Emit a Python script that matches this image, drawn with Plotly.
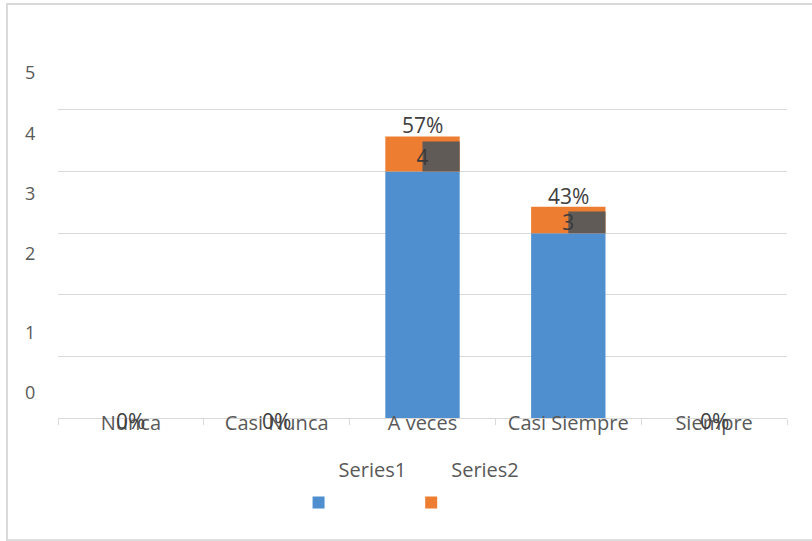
import plotly.graph_objects as go

categories = ["Nunca", "Casi Nunca", "A veces", "Casi Siempre", "Siempre"]
series1 = [0, 0, 4, 3, 0]
series2 = [0, 0, 0.57, 0.43, 0]
series2_labels = ["0%", "0%", "57%", "43%", "0%"]
y_ticks = [0, 1, 2, 3, 4, 5]

FONT = "Open Sans"
GRAY = "#595959"
BLUE = "#4f8fd0"
ORANGE = "#ed7d31"
SHADOW = "#5a5a5a"
BAR_W = 0.51

fig = go.Figure()

fig.add_trace(go.Bar(
    x=categories, y=series1, base=[0] * len(series1),
    name="<span style='font-size:20px'>Series1</span><br> ",
    marker=dict(color=BLUE, line=dict(width=0)), width=BAR_W,
))
fig.add_trace(go.Bar(
    x=categories, y=series2, base=series1,
    name="<span style='font-size:20px'>Series2</span><br> ",
    marker=dict(color=ORANGE, line=dict(width=0)), width=BAR_W,
))
# dark label box (with shadow) covering the right half of the orange segment
shadow_h = [max(v - 0.08, 0) for v in series2]
fig.add_trace(go.Bar(
    x=categories, y=shadow_h, base=series1, showlegend=False,
    marker=dict(color=SHADOW, opacity=0.95, line=dict(width=0)),
    width=BAR_W / 2, offset=0, hoverinfo="skip",
))
# Series1 value labels in the dark boxes
s1_idx = [i for i, v in enumerate(series1) if v > 0]
fig.add_trace(go.Scatter(
    x=[categories[i] for i in s1_idx],
    y=[series1[i] + shadow_h[i] * 0.4 for i in s1_idx],
    text=[str(series1[i]) for i in s1_idx],
    mode="text", textposition="middle center", showlegend=False,
    textfont=dict(family=FONT, size=21, color="#3a3a3a"), hoverinfo="skip",
))
# Series2 percentage labels
for cat, a, b, lab in zip(categories, series1, series2, series2_labels):
    top = a + b
    fig.add_annotation(
        x=cat, y=top, xref="x", yref="y", text=lab, showarrow=False,
        yanchor="middle", yshift=(11 if top > 0 else -3),
        font=dict(family=FONT, size=21, color="#404040"),
    )

# y tick labels (offset above their gridlines as in the reference)
label_shift = [26, 24, 42, 40, 39, 38]
for v, s in zip(y_ticks, label_shift):
    fig.add_annotation(
        x=0, xref="paper", xanchor="center", xshift=-28,
        y=v, yref="y", yshift=s, text=str(v), showarrow=False,
        font=dict(family=FONT, size=18, color=GRAY),
    )

# outer chart border
fig.add_shape(type="rect", xref="paper", yref="paper",
              x0=-0.07, x1=1.06, y0=-0.354, y1=1.2,
              line=dict(color="#d9d9d9", width=2), fillcolor="rgba(0,0,0,0)")

fig.update_layout(
    width=812, height=541,
    margin=dict(l=58, r=25, t=73, b=123),
    paper_bgcolor="white", plot_bgcolor="white",
    barmode="overlay",
    font=dict(family=FONT, size=20, color=GRAY),
    legend=dict(
        orientation="h", x=0.485, xanchor="center", y=-0.068, yanchor="top",
        valign="bottom", font=dict(family=FONT, size=28, color=GRAY),
        itemwidth=30, traceorder="normal",
    ),
    xaxis=dict(
        type="category", range=[-0.5, 4.5], showgrid=False,
        showline=True, linecolor="#d9d9d9", linewidth=1,
        ticks="outside", tickson="boundaries", ticklen=6, tickcolor="#d9d9d9",
        ticklabelstandoff=-13,
        tickfont=dict(family=FONT, size=20, color=GRAY),
    ),
    yaxis=dict(
        range=[0, 5.6], dtick=1, showgrid=True, gridcolor="#d9d9d9", gridwidth=1,
        zeroline=False, showticklabels=False, showline=False,
    ),
)

fig.write_html("out.html", config={"displayModeBar": False},
               post_script="document.body.style.margin='0';")
